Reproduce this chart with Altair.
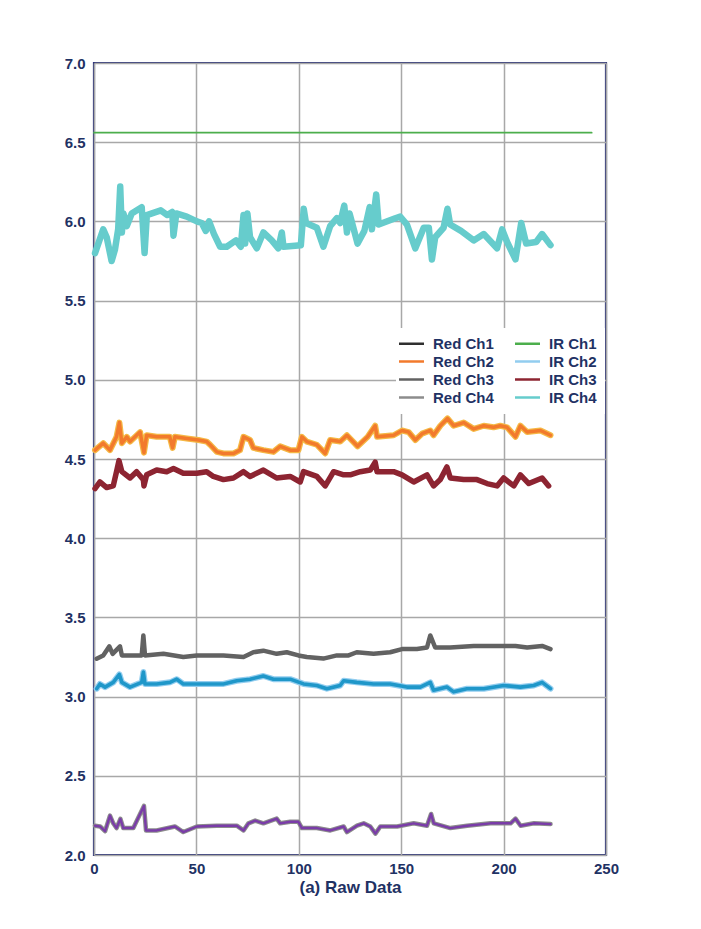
import altair as alt
import pandas as pd

# ---------------- data ----------------
ir4_x = [0.5, 4.5, 6.2, 8.6, 10.2, 11.8, 12.8, 13.6, 14.4, 16, 18.4, 23.3, 24.7, 25.8, 32.6, 35.8,
         38.2, 38.8, 40.2, 45.3, 50.2, 52.6, 54.6, 56.2, 58.6, 61.6, 64.8, 69.3, 71.7, 73, 73.8,
         74.9, 76.2, 79.5, 82.7, 86.8, 90, 91.7, 92.5, 101, 102.4, 103.5, 108.8, 112, 115.3, 118.6,
         120.2, 122.2, 123.5, 124.8, 128.7, 132, 134.6, 135.7, 137.8, 139, 147.1, 149.5, 152.8,
         156.9, 161, 163.5, 165, 166.6, 170.7, 172.6, 173.9, 179.2, 185.4, 190.3, 196.8, 199.3,
         201.7, 205.8, 208.6, 211, 215.9, 218.8, 222.9]
ir4_y = [5.80, 5.95, 5.90, 5.75, 5.82, 5.95, 6.22, 5.93, 6.05, 5.97, 6.05, 6.09, 5.80, 6.04, 6.07, 6.04,
         6.06, 5.91, 6.05, 6.03, 6.00, 5.99, 5.94, 6.00, 5.92, 5.84, 5.84, 5.88, 5.84, 6.04, 5.86,
         6.05, 5.90, 5.83, 5.93, 5.88, 5.83, 5.93, 5.84, 5.85, 6.08, 5.99, 5.96, 5.84, 5.97, 6.02,
         5.99, 6.10, 5.93, 6.05, 5.86, 5.94, 6.09, 5.95, 6.17, 5.98, 6.02, 6.03, 5.98,
         5.83, 5.96, 5.96, 5.76, 5.90, 5.96, 6.08, 5.98, 5.94, 5.88, 5.92, 5.83, 5.95,
         5.87, 5.76, 5.99, 5.86, 5.87, 5.92, 5.85]

red2_x = [0.5, 4.5, 7.8, 11, 12.4, 13.6, 16, 17.6, 22.5, 24.4, 25.7, 30.6, 37, 38.4, 39.5, 45.3, 51,
          55, 56.7, 60, 63.2, 68.1, 71.3, 73, 76.2, 77.8, 82.7, 87.6, 90.9, 95.8, 99.8, 101.5, 103.9,
          108.8, 112.9, 115.3, 120.2, 123.5, 128.7, 133.6, 137.3, 138.2, 146.3, 150.4, 153.6, 156.9,
          160.2, 164.2, 165.8, 169.1, 172.6, 175.6, 180.5, 185.4, 190.3, 195.1, 198.4, 201.7, 205.8,
          208.2, 211.5, 218, 222.9]
red2_y = [4.556, 4.60, 4.556, 4.64, 4.73, 4.60, 4.64, 4.61, 4.67, 4.54, 4.65, 4.64, 4.64, 4.57, 4.64,
          4.63, 4.62, 4.61, 4.59, 4.545, 4.535, 4.535, 4.556, 4.64, 4.62, 4.57, 4.556, 4.545, 4.58,
          4.556, 4.556, 4.64, 4.61, 4.59, 4.535, 4.62, 4.61, 4.65, 4.58, 4.64, 4.71, 4.64, 4.65, 4.68,
          4.67, 4.62, 4.66, 4.68, 4.65, 4.71, 4.756, 4.71, 4.73, 4.69, 4.71, 4.70, 4.71, 4.70, 4.64,
          4.71, 4.67, 4.68, 4.65]

ir3_x = [0.5, 2.9, 6.2, 9.4, 11, 12.2, 13.6, 17.6, 20.8, 24.1, 24.4, 25.7, 30.6, 35.5, 38.8, 43.6,
         50.2, 55, 58.3, 63.2, 68.1, 73, 76.2, 82.7, 89.2, 95.8, 100.7, 102.3, 108.8, 112.9, 117,
         121.9, 125.1, 130, 134.9, 137.3, 138.2, 146.3, 150.4, 156.1, 162.6, 165.8, 169.1, 172.3,
         174, 180.5, 187, 191.9, 196.8, 200, 205, 208.2, 212.3, 218.8, 222]
ir3_y = [4.313, 4.355, 4.32, 4.33, 4.42, 4.49, 4.42, 4.38, 4.42, 4.37, 4.33, 4.40, 4.43, 4.42, 4.44,
         4.41, 4.41, 4.42, 4.39, 4.37, 4.38, 4.42, 4.39, 4.43, 4.38, 4.39, 4.355, 4.42, 4.39, 4.33,
         4.42, 4.40, 4.40, 4.42, 4.43, 4.48, 4.42, 4.42, 4.40, 4.355, 4.40, 4.33, 4.37, 4.45,
         4.38, 4.37, 4.37, 4.345, 4.33, 4.38, 4.33, 4.40, 4.345, 4.38, 4.33]

red3_x = [1.3, 4.5, 7.5, 9.1, 12.7, 13.6, 23.3, 24.1, 24.9, 33.9, 43.6, 50.2, 63.2, 73, 77.8, 82.7,
          89.2, 94.1, 99.8, 103.9, 112, 118.6, 124.3, 128.3, 136.5, 144.6, 150.4, 157.7, 162.6,
          164.2, 166.6, 173.9, 185.4, 193.5, 200, 205.8, 211.5, 218.8, 222.9]
red3_y = [3.239, 3.26, 3.317, 3.27, 3.317, 3.26, 3.26, 3.386, 3.26, 3.27, 3.25, 3.26, 3.26, 3.25, 3.28,
          3.29, 3.27, 3.28, 3.26, 3.25, 3.24, 3.26, 3.26, 3.28, 3.27, 3.28, 3.30, 3.30, 3.31,
          3.386, 3.31, 3.31, 3.32, 3.32, 3.32, 3.32, 3.31, 3.32, 3.30]

ir2_x = [1.3, 2.9, 5.4, 9.4, 12.4, 13.6, 17.6, 23.3, 24.1, 24.9, 30.6, 37.1, 40.4, 43.6, 50.2, 56.7,
         63.2, 69.7, 76.2, 82.7, 87.6, 95.8, 102.3, 108.8, 113.7, 120.2, 121.9, 128.3, 136.5,
         144.6, 152.8, 159.3, 164.2, 165.8, 172.3, 175.6, 182.1, 190.3, 200, 208.2, 214.7, 218.8, 222.9]
ir2_y = [3.05, 3.08, 3.06, 3.09, 3.14, 3.09, 3.06, 3.09, 3.155, 3.08, 3.08, 3.09, 3.11, 3.08, 3.08, 3.08,
         3.08, 3.10, 3.11, 3.13, 3.11, 3.11, 3.08, 3.07, 3.05, 3.07, 3.10, 3.09, 3.08,
         3.08, 3.06, 3.06, 3.09, 3.04, 3.06, 3.03, 3.05, 3.05, 3.07, 3.06, 3.07, 3.09, 3.05]

red4_x = [0.5, 3, 5.4, 7.8, 9.4, 11, 12.9, 14.3, 19.2, 24.4, 25.4, 30.6, 39.5, 43.6, 50.2, 59.9, 69.7,
          73, 75.4, 78.7, 82.7, 89.2, 90.9, 95.8, 99.8, 101.5, 108.8, 115.4, 121.9, 123.5, 128.4,
          131.7, 134.9, 137.4, 139.8, 148, 156.1, 162.6, 164.6, 165.9, 174, 182.2, 193.6, 203.4,
          205.8, 208.3, 214.8, 222.9]
red4_y = [2.185, 2.18, 2.15, 2.249, 2.20, 2.17, 2.228, 2.17, 2.17, 2.31, 2.155, 2.155, 2.18, 2.145,
          2.18, 2.185, 2.185, 2.155, 2.20, 2.217, 2.20, 2.23, 2.20, 2.21, 2.21, 2.17, 2.17, 2.155,
          2.18, 2.145, 2.185, 2.20, 2.18, 2.135, 2.18, 2.18, 2.20, 2.185, 2.259, 2.20, 2.17, 2.185,
          2.20, 2.20, 2.23, 2.185, 2.20, 2.195]

ir1_x = [0, 243]
ir1_y = [6.56, 6.56]

# legend fills column by column
legend_order = ["Red Ch1", "Red Ch2", "Red Ch3", "Red Ch4", "IR Ch1", "IR Ch2", "IR Ch3", "IR Ch4"]
legend_colors = ["#2f2f2f", "#f27a2c", "#626262", "#8c8c8c", "#4cae4c", "#92cdef", "#8d2431", "#66cccc"]

x_ticks = [0, 50, 100, 150, 200, 250]
y_ticks = [2.0, 2.5, 3.0, 3.5, 4.0, 4.5, 5.0, 5.5, 6.0, 6.5, 7.0]

# ---------------- build table ----------------
rows = []
for name, xs, ys in [("IR Ch1", ir1_x, ir1_y), ("IR Ch4", ir4_x, ir4_y), ("Red Ch2", red2_x, red2_y),
                     ("IR Ch3", ir3_x, ir3_y), ("Red Ch3", red3_x, red3_y), ("IR Ch2", ir2_x, ir2_y),
                     ("Red Ch4", red4_x, red4_y)]:
    for i, (xv, yv) in enumerate(zip(xs, ys)):
        rows.append({"series": name, "x": xv, "y": yv, "i": i})
df = pd.DataFrame(rows)

navy = "#1f3264"
font = "Liberation Sans"

xenc = alt.X("x:Q", scale=alt.Scale(domain=[0, 250], nice=False, zero=False),
             axis=alt.Axis(values=x_ticks, title="(a) Raw Data", labelFlush=False,
                           ticks=False, tickSize=0, domain=False, labelPadding=6,
                           titlePadding=3, grid=True))
yenc = alt.Y("y:Q", scale=alt.Scale(domain=[2, 7], nice=False, zero=False),
             axis=alt.Axis(values=y_ticks, format=".1f", title=None, labelFlush=False,
                           ticks=False, tickSize=0, domain=False, labelPadding=9, grid=True))

color = alt.Color("series:N", scale=alt.Scale(domain=legend_order, range=legend_colors),
                  legend=alt.Legend(title=None, orient="none", legendX=302, legendY=265,
                                    columns=2, fillColor="white", padding=8,
                                    symbolType="M-2.5,0H2.5", symbolSize=100,
                                    symbolStrokeWidth=2.5,
                                    labelFont=font, labelFontSize=15, labelFontWeight="bold",
                                    labelColor=navy, labelOffset=14, rowPadding=2,
                                    columnPadding=16))

base = alt.Chart(df)


def series_line(name, width):
    return base.transform_filter(alt.datum.series == name).mark_line(
        strokeWidth=width, strokeJoin="round", strokeCap="round").encode(
        x=xenc, y=yenc, order="i:Q", color=color)


def extra_line(name, col, width):
    return base.transform_filter(alt.datum.series == name).mark_line(
        color=col, strokeWidth=width, strokeJoin="round", strokeCap="round").encode(
        x=xenc, y=yenc, order="i:Q")


layers = [
    series_line("IR Ch1", 1.8),
    series_line("IR Ch4", 6.5),
    extra_line("Red Ch2", "#f5b845", 6),
    series_line("Red Ch2", 3.5),
    series_line("IR Ch3", 5.5),
    series_line("Red Ch3", 4.5),
    series_line("IR Ch2", 6),
    extra_line("IR Ch2", "#1f97c9", 3.6),
    series_line("Red Ch4", 4.5),
    extra_line("Red Ch4", "#7a3ca8", 2.4),
]

chart = alt.layer(*layers).properties(
    width=512, height=792,
    autosize=alt.AutoSizeParams(type="none"),
    padding={"left": 86, "top": 55, "right": 80, "bottom": 60},
).configure_view(stroke="#2e3478", strokeWidth=2.2).configure_axis(
    gridColor="#a8a8a8", gridWidth=1.5, labelFont=font, labelFontSize=15,
    labelFontWeight="bold", labelColor=navy, titleFont=font, titleFontSize=17,
    titleFontWeight="bold", titleColor=navy,
)

chart.save("out.html", embed_options={"renderer": "svg", "actions": False})
